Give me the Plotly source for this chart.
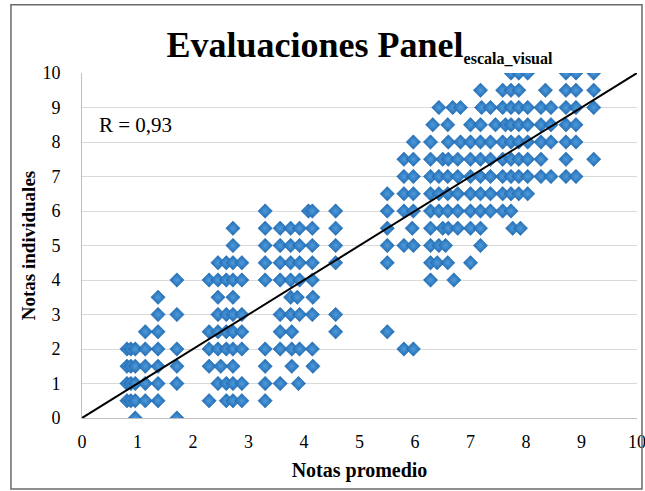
import plotly.graph_objects as go

# Notas individuales (y) -> list of Notas promedio (x) observed at that level
fila_0_0 = [0.96, 1.71]
fila_0_5 = [0.81, 0.88, 0.96, 1.14, 1.37, 2.29, 2.6, 2.72, 2.88, 3.3]
fila_1_0 = [0.81, 0.88, 0.96, 1.14, 1.37, 1.71, 2.45, 2.6, 2.72, 2.88, 3.3, 3.57, 3.9]
fila_1_5 = [0.81, 0.88, 0.96, 1.14, 1.37, 1.71, 2.29, 2.5, 2.72, 3.3, 3.78, 4.16]
fila_2_0 = [0.81, 0.88, 0.96, 1.14, 1.37, 1.71, 2.29, 2.45, 2.6, 2.72, 2.88, 3.3, 3.57,
            3.78, 3.92, 4.15, 5.8, 5.97]
fila_2_5 = [1.14, 1.37, 2.29, 2.45, 2.6, 2.72, 2.88, 3.57, 3.78, 4.57, 5.5]
fila_3_0 = [1.37, 1.71, 2.45, 2.6, 2.72, 2.88, 3.57, 3.76, 3.92, 4.15, 4.57]
fila_3_5 = [1.37, 2.45, 2.72, 3.76, 3.88, 4.16]
fila_4_0 = [1.71, 2.29, 2.45, 2.6, 2.72, 2.88, 3.3, 3.57, 3.76, 3.92, 4.15, 6.28, 6.7]
fila_4_5 = [2.45, 2.6, 2.72, 2.88, 3.3, 3.57, 3.76, 3.92, 4.15, 4.57, 5.5, 6.28, 6.4,
            6.59, 7.0]
fila_5_0 = [2.72, 3.3, 3.57, 3.76, 3.92, 4.15, 4.57, 5.5, 5.8, 5.97, 6.28, 6.43, 6.55, 7.18]
fila_5_5 = [2.72, 3.3, 3.57, 3.76, 3.92, 4.15, 4.57, 5.5, 5.95, 6.28, 6.5, 6.6, 6.77, 7.0,
            7.18, 7.76, 7.9]
fila_6_0 = [3.3, 4.08, 4.15, 4.57, 5.5, 5.8, 5.97, 6.28, 6.43, 6.59, 6.77, 7.0, 7.18,
            7.36, 7.58, 7.73]
fila_6_5 = [5.5, 5.8, 5.97, 6.28, 6.43, 6.59, 6.77, 7.0, 7.18, 7.36, 7.58, 7.73, 7.87, 8.03]
fila_7_0 = [5.8, 5.97, 6.28, 6.43, 6.59, 6.77, 7.0, 7.18, 7.36, 7.58, 7.73, 7.87, 8.03,
            8.27, 8.45, 8.72, 8.9]
fila_7_5 = [5.8, 5.97, 6.28, 6.5, 6.6, 6.77, 7.0, 7.18, 7.36, 7.58, 7.73, 7.87, 8.03,
            8.27, 8.72, 9.22]
fila_8_0 = [5.97, 6.28, 6.6, 6.82, 7.0, 7.18, 7.36, 7.58, 7.73, 7.87, 8.03, 8.27, 8.45,
            8.72, 8.9]
fila_8_5 = [6.32, 6.59, 7.0, 7.18, 7.45, 7.63, 7.73, 7.87, 8.03, 8.27, 8.45, 8.72, 8.9]
fila_9_0 = [6.43, 6.68, 6.82, 7.2, 7.36, 7.58, 7.73, 7.87, 8.03, 8.27, 8.45, 8.72, 8.9, 9.22]
fila_9_5 = [7.18, 7.58, 7.73, 7.87, 8.35, 8.72, 8.9, 9.22]
fila_10_0 = [7.73, 7.87, 8.03, 8.72, 8.9, 9.22]

niveles = [0.0, 0.5, 1.0, 1.5, 2.0, 2.5, 3.0, 3.5, 4.0, 4.5, 5.0, 5.5, 6.0, 6.5, 7.0,
           7.5, 8.0, 8.5, 9.0, 9.5, 10.0]
filas = [fila_0_0, fila_0_5, fila_1_0, fila_1_5, fila_2_0, fila_2_5, fila_3_0, fila_3_5,
         fila_4_0, fila_4_5, fila_5_0, fila_5_5, fila_6_0, fila_6_5, fila_7_0, fila_7_5,
         fila_8_0, fila_8_5, fila_9_0, fila_9_5, fila_10_0]

tendencia_x = [0, 10]
tendencia_y = [0, 10]
ticks = list(range(0, 11))
r_texto = "R = 0,93"

notas_promedio = []
notas_individuales = []
for nivel, fila in zip(niveles, filas):
    for xv in fila:
        notas_promedio.append(xv)
        notas_individuales.append(nivel)

SERIF = "Liberation Serif"

fig = go.Figure()
fig.add_trace(go.Scatter(
    x=notas_promedio, y=notas_individuales, mode="markers",
    marker=dict(symbol="diamond", size=11, color="#1f6bb5",
                gradient=dict(type="radial", color="#4f9ad9"),
                line=dict(width=0.6, color="#2a6fb0")),
    showlegend=False, hoverinfo="x+y"))
fig.add_trace(go.Scatter(
    x=tendencia_x, y=tendencia_y, mode="lines",
    line=dict(color="black", width=2), showlegend=False, hoverinfo="skip"))

fig.add_annotation(x=0.27, y=8.5, xref="x", yref="y", text=r_texto, showarrow=False,
                   xanchor="left", yanchor="middle",
                   font=dict(family=SERIF, size=21, color="black"))

# outer chart border
fig.add_shape(type="rect", xref="paper", yref="paper",
              x0=-0.128, x1=1.009, y0=-0.206, y1=1.198,
              line=dict(color="#6a6a6a", width=1.5), fillcolor="rgba(0,0,0,0)")

fig.update_layout(
    width=645, height=491,
    margin=dict(l=82, r=8, t=73, b=73, autoexpand=False),
    paper_bgcolor="white", plot_bgcolor="white",
    title=dict(text="<b>Evaluaciones Panel<sub><span style=\"font-size:16px\">escala_visual</span></sub></b>",
               x=0.5, xref="paper", xanchor="center",
               y=0.91, yref="container", yanchor="middle",
               font=dict(family=SERIF, size=36, color="black")),
    font=dict(family=SERIF, color="black"),
)
fig.update_xaxes(range=[0, 10], tickvals=ticks, showgrid=False, zeroline=False,
                 automargin=False,
                 showline=True, linecolor="#bfbfbf", linewidth=1,
                 ticks="", ticklabelstandoff=7, ticklabeloverflow="allow",
                 tickfont=dict(family=SERIF, size=18, color="black"),
                 title=dict(text="<b>Notas promedio</b>", standoff=12,
                            font=dict(family=SERIF, size=20, color="black")))
fig.update_yaxes(range=[0, 10], tickvals=ticks, showgrid=True, gridcolor="#d9d9d9",
                 gridwidth=1, zeroline=False, automargin=False,
                 showline=True, linecolor="#bfbfbf", linewidth=1,
                 ticks="", ticklabelstandoff=17,
                 tickfont=dict(family=SERIF, size=18, color="black"),
                 title=dict(text="<b>Notas individuales</b>", standoff=1,
                            font=dict(family=SERIF, size=19, color="black")))

fig.write_html("out.html", config={"displayModeBar": False},
               post_script="document.body.style.margin='0';document.body.style.overflow='hidden';")
